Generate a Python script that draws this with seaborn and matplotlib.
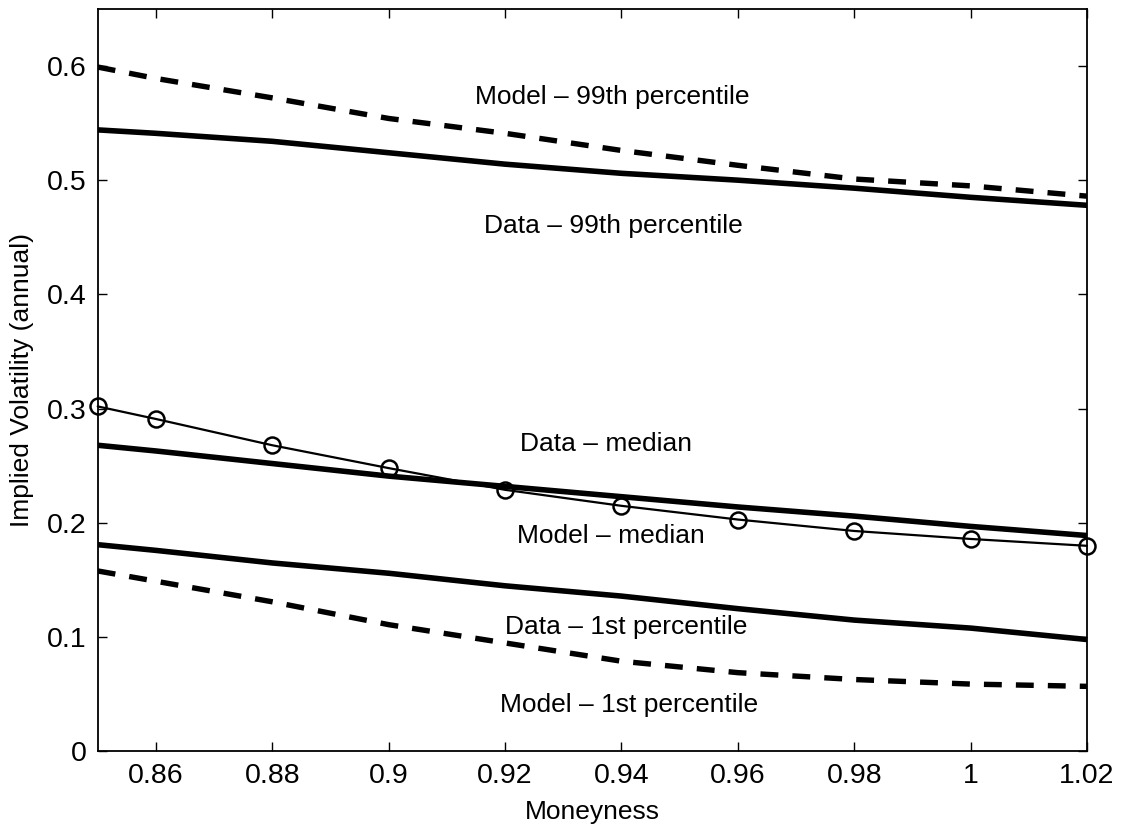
import numpy as np
import pandas as pd
import matplotlib
matplotlib.use("Agg")
import matplotlib.pyplot as plt
import seaborn as sns

# ---- data ----
moneyness = [0.85, 0.86, 0.88, 0.90, 0.92, 0.94, 0.96, 0.98, 1.00, 1.02]
model_99 = [0.599, 0.589, 0.572, 0.554, 0.541, 0.526, 0.513, 0.501, 0.495, 0.486]
data_99 = [0.544, 0.541, 0.534, 0.524, 0.514, 0.506, 0.500, 0.493, 0.485, 0.478]
data_median = [0.268, 0.263, 0.252, 0.241, 0.232, 0.223, 0.214, 0.206, 0.197, 0.189]
model_median = [0.302, 0.291, 0.268, 0.248, 0.229, 0.215, 0.203, 0.193, 0.186, 0.180]
data_1 = [0.181, 0.176, 0.165, 0.156, 0.145, 0.136, 0.125, 0.115, 0.108, 0.098]
model_1 = [0.158, 0.149, 0.131, 0.111, 0.095, 0.079, 0.069, 0.063, 0.059, 0.057]

labels = ["Model \u2013 99th percentile", "Data \u2013 99th percentile",
          "Data \u2013 median", "Model \u2013 median",
          "Data \u2013 1st percentile", "Model \u2013 1st percentile"]
label_x = [0.9148, 0.9163, 0.9225, 0.9221, 0.9200, 0.9191]
label_y = [0.5664, 0.4538, 0.2633, 0.1828, 0.1029, 0.0350]

xticks = [0.86, 0.88, 0.90, 0.92, 0.94, 0.96, 0.98, 1.00, 1.02]
xtick_labels = ["0.86", "0.88", "0.9", "0.92", "0.94", "0.96", "0.98", "1", "1.02"]
yticks = [0, 0.1, 0.2, 0.3, 0.4, 0.5, 0.6]
ytick_labels = ["0", "0.1", "0.2", "0.3", "0.4", "0.5", "0.6"]

# ---- styling ----
sns.set_theme(style="ticks")
plt.rcParams["font.family"] = ["Liberation Sans", "DejaVu Sans"]

df = pd.DataFrame({
    "x": moneyness,
    "model_99": model_99, "data_99": data_99,
    "data_median": data_median, "model_median": model_median,
    "data_1": data_1, "model_1": model_1,
})

fig = plt.figure(figsize=(11.22, 8.27), dpi=100)
ax = fig.add_axes([0.0871, 0.0913, 0.9688 - 0.0871, 0.9894 - 0.0913])

dash = (0, (3.3, 2.6))
sns.lineplot(data=df, x="x", y="model_99", ax=ax, color="black", lw=3.9, linestyle=dash)
sns.lineplot(data=df, x="x", y="data_99", ax=ax, color="black", lw=4.0)
sns.lineplot(data=df, x="x", y="data_median", ax=ax, color="black", lw=4.0)
sns.lineplot(data=df, x="x", y="model_median", ax=ax, color="black", lw=1.6,
             marker="o", markersize=11.5, markerfacecolor="none",
             markeredgecolor="black", markeredgewidth=1.8, clip_on=False, zorder=5)
sns.lineplot(data=df, x="x", y="data_1", ax=ax, color="black", lw=4.0)
sns.lineplot(data=df, x="x", y="model_1", ax=ax, color="black", lw=3.9, linestyle=dash)

for t, tx, ty in zip(labels, label_x, label_y):
    ax.text(tx, ty, t, fontsize=19, ha="left", va="baseline", color="black")

ax.set_xlim(0.85, 1.02)
ax.set_ylim(0, 0.65)
ax.set_xticks(xticks)
ax.set_xticklabels(xtick_labels)
ax.set_yticks(yticks)
ax.set_yticklabels(ytick_labels)
ax.tick_params(direction="in", length=6.7, width=1.0, top=True, right=True,
               labelsize=20.5, colors="black", labelcolor="black", pad=8)
for s in ax.spines.values():
    s.set_visible(True)
    s.set_linewidth(1.3)
    s.set_color("black")

ax.set_xlabel("Moneyness", fontsize=19, labelpad=8, color="black")
ax.set_ylabel("Implied Volatility (annual)", fontsize=19, labelpad=9, color="black")

fig.savefig("out.png", dpi=100, facecolor="white")
